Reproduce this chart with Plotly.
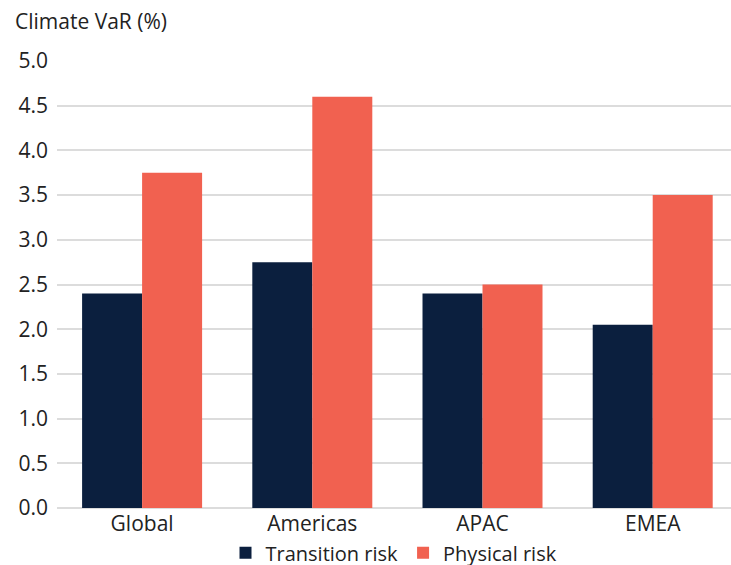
import plotly.graph_objects as go

regions = ["Global", "Americas", "APAC", "EMEA"]
transition_risk = [2.40, 2.75, 2.40, 2.05]
physical_risk = [3.75, 4.60, 2.50, 3.50]
y_ticks = [0.0, 0.5, 1.0, 1.5, 2.0, 2.5, 3.0, 3.5, 4.0, 4.5, 5.0]

NAVY = "#0b1f3e"
CORAL = "#f16150"
GRID = "#dcdcdc"
TEXT = "#222222"
FONT = "Open Sans, Arial, sans-serif"
FS = 21

fig = go.Figure()
fig.add_trace(go.Bar(name="Transition risk", x=regions, y=transition_risk,
                     marker=dict(color=NAVY, line=dict(width=0))))
fig.add_trace(go.Bar(name="Physical risk", x=regions, y=physical_risk,
                     marker=dict(color=CORAL, line=dict(width=0))))

fig.update_layout(
    width=731, height=565,
    margin=dict(l=57, r=0, t=61, b=57, autoexpand=False),
    paper_bgcolor="white", plot_bgcolor="white",
    font=dict(family=FONT, size=FS, color=TEXT),
    barmode="group", bargap=0.295, bargroupgap=0,
    showlegend=True,
    legend=dict(orientation="h", x=0.5, xanchor="center", y=-0.1, yanchor="middle",
                font=dict(size=20, color=TEXT), itemwidth=30, traceorder="normal",
                bgcolor="rgba(0,0,0,0)"),
    annotations=[dict(text="Climate VaR (%)", xref="paper", yref="paper",
                      x=-0.066, y=1.09, xanchor="left", yanchor="middle",
                      showarrow=False, font=dict(size=FS, color=TEXT))],
)
fig.update_xaxes(range=[-0.5, 3.46], showgrid=False, showline=False, ticks="",
                 tickfont=dict(size=FS, color=TEXT), ticklabelstandoff=1)
fig.update_yaxes(range=[0, 5.0], tickvals=y_ticks, ticktext=[f"{v:.1f}" for v in y_ticks],
                 showgrid=True, gridcolor=GRID, gridwidth=2,
                 zeroline=True, zerolinecolor=GRID, zerolinewidth=2,
                 showline=False, ticks="", tickfont=dict(size=FS, color=TEXT),
                 ticklabelstandoff=8)

fig.write_html("out.html")
